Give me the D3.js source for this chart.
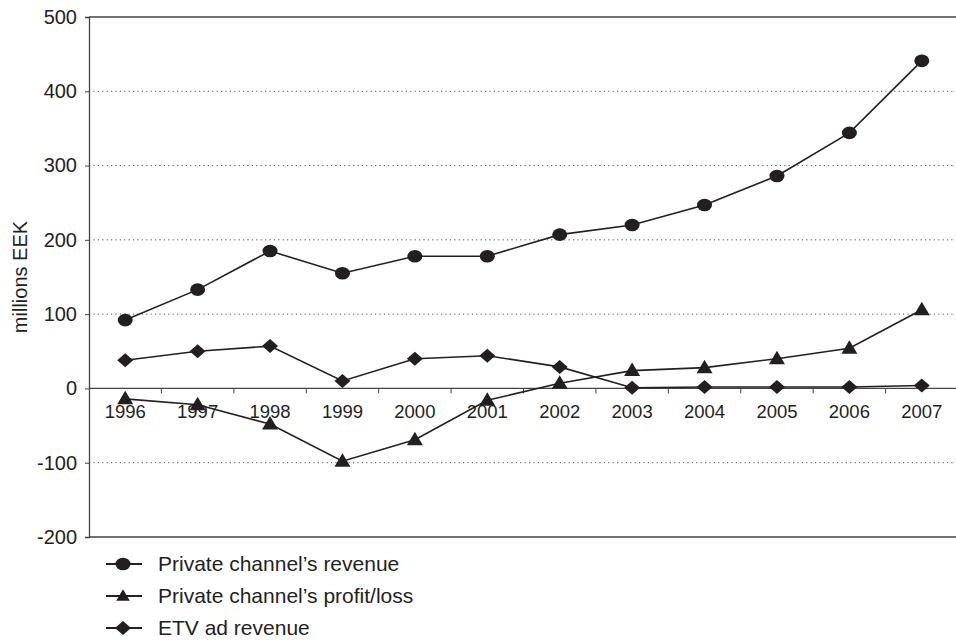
<!DOCTYPE html>
<html><head><meta charset="utf-8">
<script src="https://cdn.jsdelivr.net/npm/d3@7"></script>
<style>body{margin:0;background:#fff}svg{display:block}text{font-family:"Liberation Sans",Arial,sans-serif;fill:#231f20}</style>
</head><body><svg id="c" width="956" height="640"></svg>
<script>
const years = ["1996","1997","1998","1999","2000","2001","2002","2003","2004","2005","2006","2007"];
const revenue = [92,133,185,155,178,178,207,220,247,286,344,441];
const profit = [-14,-22,-48,-98,-69,-16,7,24,28,40,54,106];
const etv = [38,50,57,10,40,44,29,1,2,2,2,4];
const yTicks = [-200,-100,0,100,200,300,400,500];
const seriesNames = ["Private channel\u2019s revenue","Private channel\u2019s profit/loss","ETV ad revenue"];
const markers = ["circle","triangle","diamond"];

const ink = "#231f20";
const svg = d3.select("#c");
const x = d3.scaleBand().domain(years).range([89, 958]);
const y = d3.scaleLinear().domain([-200, 500]).range([537, 17]);
const cx = d => x(d) + x.bandwidth()/2;

// gridlines
svg.append("g").selectAll("line").data(yTicks.filter(t => t !== 0 && t !== 500 && t !== -200)).join("line")
  .attr("x1", 89).attr("x2", 956).attr("y1", d => y(d)).attr("y2", d => y(d))
  .attr("stroke", "#555").attr("stroke-width", 1).attr("stroke-dasharray", "1.2,3.2");
// top/bottom border
[500, -200].forEach(v => svg.append("line").attr("x1", 89).attr("x2", 956).attr("y1", y(v)).attr("y2", y(v)).attr("stroke", "#444").attr("stroke-width", 1.3));

// y axis
const yAxis = svg.append("g").attr("transform", "translate(89,0)")
  .call(d3.axisLeft(y).tickValues(yTicks).tickFormat(d => String(d)).tickSize(4).tickPadding(8));
yAxis.select(".domain").attr("stroke", "#444").attr("stroke-width", 1.3);
yAxis.selectAll(".tick line").attr("stroke", "#444");
yAxis.selectAll("text").attr("font-size", 20).attr("fill", ink).attr("font-family", "Liberation Sans, Arial, sans-serif");

// x axis at zero
const xAxis = svg.append("g").attr("transform", `translate(0,${y(0)})`)
  .call(d3.axisBottom(x).tickSize(0).tickPadding(16));
xAxis.select(".domain").remove();
svg.append("line").attr("x1", 89).attr("x2", 956).attr("y1", y(0)).attr("y2", y(0)).attr("stroke", "#444").attr("stroke-width", 1.3);
svg.append("g").selectAll("line").data(years.slice(1)).join("line")
  .attr("x1", d => x(d)).attr("x2", d => x(d)).attr("y1", y(0)).attr("y2", y(0) + 5)
  .attr("stroke", "#444");
xAxis.selectAll("text").attr("font-size", 18.5).attr("fill", ink).attr("font-family", "Liberation Sans, Arial, sans-serif");

svg.append("text").attr("transform", `translate(27,${(y(500)+y(-200))/2}) rotate(-90)`)
  .attr("text-anchor", "middle").attr("font-size", 20).text("millions EEK");

function drawMarker(g, type, px, py, s) {
  if (type === "circle") g.append("ellipse").attr("cx", px).attr("cy", py).attr("rx", 7.5*s).attr("ry", 6.3*s).attr("fill", ink);
  else if (type === "triangle") g.append("path").attr("d", `M${px},${py-8*s}L${px+8*s},${py+5.5*s}L${px-8*s},${py+5.5*s}Z`).attr("fill", ink);
  else g.append("path").attr("d", `M${px},${py-7*s}L${px+8*s},${py}L${px},${py+7*s}L${px-8*s},${py}Z`).attr("fill", ink);
}

const data = [revenue, profit, etv];
const line = d3.line().x((d, i) => cx(years[i])).y(d => y(d));
data.forEach((vals, k) => {
  const g = svg.append("g");
  g.append("path").attr("d", line(vals)).attr("fill", "none").attr("stroke", ink).attr("stroke-width", 1.6);
  vals.forEach((v, i) => drawMarker(g, markers[k], cx(years[i]), y(v), 1));
});

// legend
const lg = svg.append("g");
seriesNames.forEach((n, k) => {
  const ly = 564 + k * 32;
  lg.append("line").attr("x1", 106).attr("x2", 142).attr("y1", ly).attr("y2", ly).attr("stroke", ink).attr("stroke-width", 2);
  drawMarker(lg, markers[k], 123, ly, k === 1 ? 0.85 : 1);
  lg.append("text").attr("x", 158).attr("y", ly).attr("dy", "0.35em").attr("font-size", 21).text(n);
});
</script></body></html>
